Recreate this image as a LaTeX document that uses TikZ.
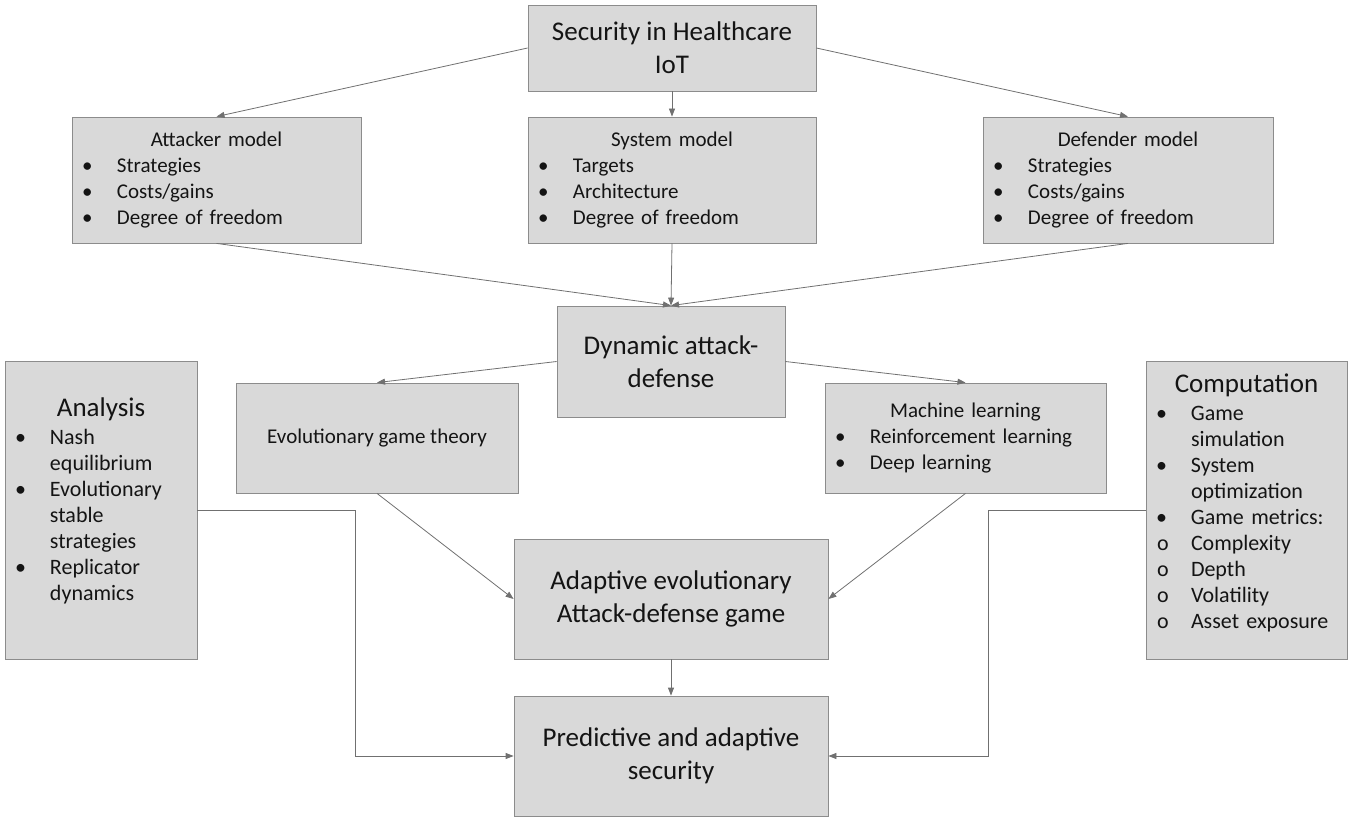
\documentclass[tikz,border=0pt]{standalone}
\usepackage{fontspec}
\setmainfont{Carlito}
\usetikzlibrary{arrows.meta}
\definecolor{boxfill}{RGB}{217,217,217}
\definecolor{boxline}{RGB}{140,140,140}
\definecolor{linkgray}{RGB}{112,112,112}
\newcommand{\bul}{\makebox[31pt][l]{\hspace*{-4pt}\textbullet}}
\newcommand{\circbul}{\makebox[31pt][l]{\hspace*{-3pt}o}}
\newcommand{\itmind}{\hspace*{31pt}}
\newcommand{\boxhead}[1]{\makebox[\linewidth][c]{#1}}
\newcommand{\liftup}[1]{\rule[-#1]{0pt}{0pt}}
\tikzset{
  box/.style={draw=boxline, fill=boxfill, line width=0.8pt, inner sep=0pt, text=black!92},
  bigbox/.style={box, font=\fontsize{27}{33}\selectfont, align=center},
  listbox/.style={box, font=\fontsize{21}{26}\selectfont, align=left, inner xsep=14pt},
  link/.style={draw=linkgray, line width=0.8pt, -{Triangle[length=8pt,width=6pt]}}
}
\begin{document}
\begin{tikzpicture}[x=1pt,y=1pt,yscale=-1,xscale=1]
        \useasboundingbox (0,0) rectangle (1358,818);
        %Shape: Rectangle
        \node[bigbox, minimum width=288, minimum height=86] (top) at (672,48) {Security in Healthcare\\IoT};
        %Shape: Rectangle
        \node[listbox, text width=261, minimum height=126] (att) at (216.5,180)
          {\boxhead{Attacker model}\\\bul Strategies\\\bul Costs/gains\\\bul Degree of freedom};
        %Shape: Rectangle
        \node[listbox, text width=260, minimum height=126] (sys) at (672,180)
          {\boxhead{System model}\\\bul Targets\\\bul Architecture\\\bul Degree of freedom};
        %Shape: Rectangle
        \node[listbox, text width=262, minimum height=126] (def) at (1128,180)
          {\boxhead{Defender model}\\\bul Strategies\\\bul Costs/gains\\\bul Degree of freedom};
        %Shape: Rectangle
        \node[bigbox, minimum width=228, minimum height=111] (dyn) at (671,361.5) {Dynamic attack-\\defense};
        %Shape: Rectangle
        \node[box, font=\fontsize{21}{26}\selectfont, minimum width=282, minimum height=110] (evo) at (377,438) {Evolutionary game theory};
        %Shape: Rectangle
        \node[listbox, text width=253, minimum height=110] (ml) at (965.5,438)
          {\boxhead{Machine learning}\\\bul Reinforcement learning\\\bul Deep learning};
        %Shape: Rectangle
        \node[listbox, font=\fontsize{22}{26}\selectfont, text width=164, minimum height=298] (ana) at (101,510)
          {\boxhead{\fontsize{27}{32}\selectfont Analysis}\\[2pt]\bul Nash\\\itmind equilibrium\\\bul Evolutionary\\\itmind stable\\\itmind strategies\\\bul Replicator\\\itmind dynamics\liftup{22pt}};
        %Shape: Rectangle
        \node[listbox, font=\fontsize{22}{26}\selectfont, text width=173, minimum height=298] (comp) at (1246.5,510)
          {\boxhead{\fontsize{27}{32}\selectfont Computation}\\[2pt]\bul Game\\\itmind simulation\\\bul System\\\itmind optimization\\\bul Game metrics:\\\circbul Complexity\\\circbul Depth\\\circbul Volatility\\\circbul Asset exposure\liftup{18pt}};
        %Shape: Rectangle
        \node[bigbox, minimum width=314, minimum height=120] (adp) at (671,599) {Adaptive evolutionary\\Attack-defense game};
        %Shape: Rectangle
        \node[bigbox, minimum width=314, minimum height=120] (pred) at (671,756) {Predictive and adaptive\\security};
        \coordinate (anaelbow) at (355,510);
        \coordinate (compelbow) at (988,510);
        %Straight Lines
        \draw[link] (top.west) -- (att.north);
        \draw[link] (top.south) -- (sys.north);
        \draw[link] (top.east) -- (def.north);
        %Straight Lines
        \draw[link] (att.south) -- (dyn.north);
        \draw[link] (sys.south) -- (dyn.north);
        \draw[link] (def.south) -- (dyn.north);
        %Straight Lines
        \draw[link] (dyn.west) -- (evo.north);
        \draw[link] (dyn.east) -- (ml.north);
        \draw[link] (evo.south) -- (adp.west);
        \draw[link] (ml.south) -- (adp.east);
        \draw[link] (adp.south) -- (pred.north);
        %Straight Lines
        \draw[link] (ana.east) -- (anaelbow) |- (pred.west);
        \draw[link] (comp.west) -- (compelbow) |- (pred.east);
\end{tikzpicture}
\end{document}
